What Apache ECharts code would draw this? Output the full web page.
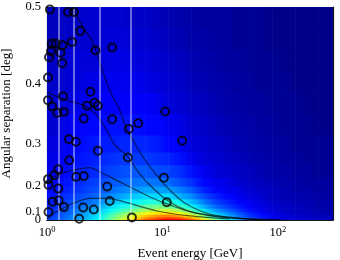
<!DOCTYPE html>
<html><head><meta charset="utf-8">
<script src="https://cdn.jsdelivr.net/npm/echarts@6/dist/echarts.min.js"></script>
<style>html,body{margin:0;padding:0;background:#fff}#c{width:340px;height:260px}</style>
</head><body><div id="c"></div>
<script>
// ---- data ----
const energyCenters = [1.122,1.413,1.778,2.239,2.818,3.548,4.467,5.623,7.079,8.913,11.22,14.13,17.78,22.39,28.18,35.48,44.67,56.23,70.79,89.13,112.2,141.3,177.8,223.9,281.8];
const sepSqEdges = [0,0.002,0.004,0.007,0.01,0.014,0.019,0.025,0.032,0.04,0.05,0.065,0.08,0.1,0.125,0.15,0.175,0.2,0.225,0.25];
// density (percent of colour scale) per energy sample, from smallest to largest separation
const density = [
 [19,19,18,17,17,16,15,14,13,12,11,10,9,8,8,7,7,6,6],
 [23,23,22,21,20,19,18,17,15,14,13,12,11,10,9,8,8,7,7],
 [27,27,26,25,24,22,21,19,17,16,15,14,13,12,10,9,9,8,7],
 [32,31,30,29,27,25,23,21,19,18,16,15,14,13,11,10,9,8,8],
 [38,37,36,34,32,29,26,23,21,19,17,16,15,13,12,10,9,8,8],
 [48,47,45,42,38,34,30,26,23,21,19,17,15,14,12,11,10,9,8],
 [58,56,53,49,44,39,34,29,25,22,20,18,16,14,12,11,10,9,8],
 [68,64,60,55,49,43,37,32,27,24,21,18,16,14,12,11,9,8,7],
 [78,74,68,61,54,47,40,34,29,24,21,18,16,13,12,10,9,8,7],
 [84,79,73,65,57,49,41,34,28,24,20,17,15,13,11,9,8,7,6],
 [88,83,75,67,58,49,41,34,28,23,19,16,13,11,9,8,7,6,5],
 [86,80,71,62,53,44,37,30,25,20,17,14,12,10,8,7,6,5,4],
 [79,72,63,54,45,38,31,26,21,17,14,11,9,8,7,6,5,4,4],
 [66,59,51,43,36,30,25,20,16,13,11,9,8,7,6,5,4,4,3],
 [50,45,39,33,28,23,19,16,13,11,9,8,7,6,5,4,4,3,3],
 [38,35,31,27,23,19,16,13,11,10,8,7,6,5,4,4,3,3,3],
 [29,27,24,21,18,15,13,11,10,8,7,6,5,4,4,3,3,2,2],
 [22,20,18,16,14,12,11,9,8,7,6,5,4,4,3,3,2,2,2],
 [17,16,14,13,11,10,9,8,7,6,5,4,4,3,3,2,2,2,2],
 [13,12,11,10,9,8,7,6,6,5,4,4,3,3,2,2,2,1,1],
 [11,10,9,8,7,7,6,5,5,4,4,3,3,2,2,2,1,1,1],
 [9,8,8,7,6,6,5,5,4,4,3,3,2,2,2,1,1,1,1],
 [8,7,7,6,6,5,5,4,4,3,3,2,2,2,1,1,1,1,1],
 [7,6,6,5,5,4,4,4,3,3,2,2,2,1,1,1,1,1,1],
 [6,6,5,5,4,4,4,3,3,3,2,2,2,1,1,1,1,1,1]
];
const eventEnergy = [1.06,1.52,1.71,1.94,1.10,1.19,1.36,1.645,1.083,1.309,2.63,3.67,1.04,1.354,1.02,2.38,1.375,2.59,2.23,2.75,1.02,1.11,1.23,1.40,2.08,3.67,1.55,1.78,2.76,5.12,6.16,10.55,14.8,1.556,1.25,1.16,1.79,2.08,1.02,1.03,1.25,3.32,5.02,10.28,1.12,1.26,1.40,2.06,2.54,3.49,10.9,1.03,1.90,5.44];
const eventSep = [0.497,0.494,0.494,0.471,0.455,0.455,0.453,0.457,0.445,0.443,0.446,0.450,0.437,0.429,0.409,0.388,0.381,0.371,0.366,0.366,0.375,0.365,0.355,0.356,0.345,0.344,0.308,0.303,0.285,0.327,0.337,0.357,0.305,0.265,0.244,0.229,0.225,0.227,0.219,0.203,0.192,0.198,0.271,0.223,0.146,0.151,0.123,0.121,0.111,0.149,0.144,0.097,0.039,0.054];
const contour1 = [[1.645,0.5],[2.01,0.478],[2.50,0.456],[3.05,0.417],[3.65,0.383],[4.28,0.359],[4.73,0.334],[5.66,0.303],[6.77,0.272],[8.60,0.235],[10.9,0.197],[15.6,0.141],[25.7,0.084],[57,0.034],[126,0]];
const contour2 = [[1,0.388],[1.245,0.38],[1.68,0.372],[2.13,0.366],[2.60,0.354],[2.99,0.339],[3.37,0.320],[3.87,0.297],[5.02,0.272],[6.00,0.242],[7.33,0.211],[10.9,0.153],[17.3,0.100],[31.4,0.059],[69.6,0.024]];
const contour3 = [[1,0.217],[1.296,0.232],[1.68,0.242],[2.355,0.248],[2.76,0.240],[3.51,0.225],[5.22,0.197],[8.26,0.160],[11.6,0.133],[17.3,0.099],[28.4,0.069],[51.6,0.042],[103.6,0.024]];
const contour4 = [[1,0.034],[1.127,0.084],[1.296,0.108],[1.68,0.140],[2.355,0.159],[3.18,0.159],[4.28,0.151],[5.77,0.133],[9.50,0.100],[17.3,0.069],[38.3,0.034]];
const markerEnergies = [1.27,1.72,2.89,5.30];
const xMajorTicks = [1,10,100];
const xMinorTicks = [2,3,4,5,6,7,8,9,20,30,40,50,60,70,80,90,200,300];
const yTickLabels = [0,0.1,0.2,0.3,0.4,0.5];
const E_MIN = 1, E_MAX = 300;

// ---- chart ----
const SERIF = 'Liberation Serif';
const sq = t => t * t;
const clamp = x => Math.max(0, Math.min(1, x));
function jet(v) {
  const r = clamp(1.5 - Math.abs(4 * v - 3)), g = clamp(1.5 - Math.abs(4 * v - 2)), b = clamp(1.5 - Math.abs(4 * v - 1));
  return 'rgb(' + Math.round(r * 255) + ',' + Math.round(g * 255) + ',' + Math.round(b * 255) + ')';
}
const heatData = [];
const n = energyCenters.length;
for (let i = -1; i < n; i++) {
  const xa = i < 0 ? E_MIN : energyCenters[i];
  const xb = i + 1 >= n ? E_MAX : energyCenters[i + 1];
  const ia = Math.max(i, 0), ib = Math.min(i + 1, n - 1);
  for (let j = 0; j < density[0].length; j++)
    heatData.push([xa, xb, sepSqEdges[j], sepSqEdges[j + 1], density[ia][j] / 100, density[ib][j] / 100]);
}

const lineCol = '#1a1a1a';
function xAx(pos, ticks, len, labels) {
  return {type:'log', logBase:10, min:E_MIN, max:E_MAX, position:pos,
    axisLine:{show:true, onZero:false, lineStyle:{color:lineCol, width:1.2}},
    axisTick:{show:true, inside:true, length:len, customValues:ticks, lineStyle:{color:lineCol, width:1}},
    axisLabel: labels ? {show:true, customValues:xMajorTicks, margin:5, hideOverlap:false,
        formatter: v => '{b|10}{s|' + Math.round(Math.log10(v)) + '}',
        rich:{b:{fontFamily:SERIF, fontSize:12.5, color:'#000', lineHeight:16},
              s:{fontFamily:SERIF, fontSize:8.5, color:'#000', verticalAlign:'top', lineHeight:10}}} : {show:false},
    splitLine:{show:false}, minorTick:{show:false}, minorSplitLine:{show:false},
    name: labels ? 'Event energy [GeV]' : '', nameLocation:'middle', nameGap:27,
    nameTextStyle:{fontFamily:SERIF, fontSize:13, color:'#000'}};
}
function yAx(pos, labelVals, ticks, named) {
  const vals = yTickLabels.map(sq);
  return {type:'value', min:0, max:0.25, position:pos,
    axisLine:{show:ticks, onZero:false, lineStyle:{color:lineCol, width:1.2}},
    axisTick:{show:ticks, inside:true, length:4, customValues:vals, lineStyle:{color:lineCol, width:1}},
    axisLabel: labelVals ? {show:true, customValues:labelVals.map(sq), margin:6, hideOverlap:false,
        fontFamily:SERIF, fontSize:12.5, color:'#000',
        formatter: v => { const t = Math.sqrt(v); return t < 1e-9 ? '0' : t.toFixed(1); }} : {show:false},
    splitLine:{show:false},
    name: named ? 'Angular separation [deg]' : '', nameLocation:'middle', nameGap:34,
    nameTextStyle:{fontFamily:SERIF, fontSize:13, color:'#000'}};
}

const chart = echarts.init(document.getElementById('c'), null, {renderer:'canvas'});
const contourSeries = [contour1, contour2, contour3, contour4].map(c => ({
  type:'line', xAxisIndex:0, yAxisIndex:0, data:c.map(p => [p[0], sq(p[1])]),
  showSymbol:false, smooth:0.3, clip:true, silent:true, z:4,
  lineStyle:{color:'rgba(0,0,0,0.6)', width:1.2}
}));
chart.setOption({
  animation:false,
  grid:{left:47, right:7, top:7, bottom:40, containLabel:false, outerBoundsMode:'none'},
  xAxis:[xAx('bottom', xMajorTicks, 4.5, true), xAx('bottom', xMinorTicks, 2.5, false),
         xAx('top', xMajorTicks, 4.5, false), xAx('top', xMinorTicks, 2.5, false)],
  yAxis:[yAx('left', yTickLabels.slice(1), true, true), yAx('right', null, true, false),
         yAx('left', yTickLabels.slice(0, 1), false, false)],
  series:[
    {type:'custom', xAxisIndex:0, yAxisIndex:0, data:heatData, encode:{x:[0,1], y:[2,3]}, silent:true, z:1,
     renderItem(params, api) {
       const p0 = api.coord([api.value(0), api.value(2)]);
       const p1 = api.coord([api.value(1), api.value(3)]);
       const cs = params.coordSys;
       const shape = echarts.graphic.clipRectByRect(
         {x:p0[0], y:p1[1], width:p1[0]-p0[0]+0.6, height:p0[1]-p1[1]+0.7},
         {x:cs.x, y:cs.y, width:cs.width, height:cs.height});
       if (!shape) return null;
       const ca = jet(api.value(4)), cb = jet(api.value(5));
       return {type:'rect', shape:shape,
         style:{fill:new echarts.graphic.LinearGradient(0, 0, 1, 0, [{offset:0, color:ca}, {offset:1, color:cb}])}};
     }},
    {type:'line', xAxisIndex:0, yAxisIndex:0, data:[], silent:true, z:3,
     markLine:{silent:true, symbol:['none','none'], label:{show:false},
       lineStyle:{color:'rgba(255,255,255,0.55)', width:1.5, type:'solid'},
       data:markerEnergies.map(e => ({xAxis:e}))}},
    ...contourSeries,
    {type:'scatter', xAxisIndex:0, yAxisIndex:0, z:5, silent:true,
     data:eventEnergy.map((e,i) => [e, sq(eventSep[i])]),
     symbol:'circle', symbolSize:8,
     itemStyle:{color:'rgba(0,0,0,0)', borderColor:'#000', borderWidth:2}}
  ]
});
</script></body></html>
